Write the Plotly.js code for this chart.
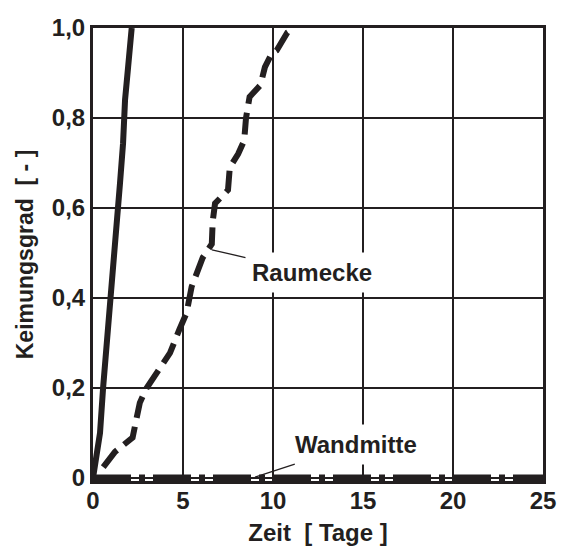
<!DOCTYPE html>
<html><head><meta charset="utf-8">
<script src="https://cdn.plot.ly/plotly-3.0.1.min.js"></script>
<style>html,body{margin:0;padding:0;background:#fff}#c{width:561px;height:546px}</style>
</head><body><div id="c"></div>
<script>
// Keimungsgrad over time (days)
const solidX = [0, 0.2, 0.39, 0.56, 0.85, 1.05, 1.1, 1.4, 1.5, 1.67, 1.78, 1.95, 2.15];
const solidY = [0, 0.062, 0.10, 0.20, 0.34, 0.43, 0.455, 0.573, 0.655, 0.744, 0.84, 0.913, 1.0];

const raumeckeX = [0.57, 1.22, 2.2, 2.33, 2.6, 2.98, 3.55, 4.28, 4.8, 5.2, 5.48, 6.1, 6.6, 6.65, 6.78, 7.5, 7.6, 8.06, 8.4, 8.5, 8.7, 9.3, 9.55, 9.94, 10.2, 10.5, 10.8, 11.2];
const raumeckeY = [0.024, 0.058, 0.09, 0.113, 0.167, 0.2, 0.233, 0.278, 0.33, 0.367, 0.425, 0.49, 0.52, 0.57, 0.61, 0.64, 0.69, 0.72, 0.75, 0.80, 0.847, 0.873, 0.913, 0.944, 0.95, 0.973, 0.99, 1.0];

const wandmitteX = [0, 25];
const wandmitteY = [0, 0];

const xTicks = [0, 5, 10, 15, 20, 25];
const xTickText = ["0", "5", "10", "15", "20", "25"];
const yTicks = [0, 0.2, 0.4, 0.6, 0.8, 1.0];
const yTickText = ["0", "0,2", "0,4", "0,6", "0,8", "1,0"];

const ink = "#231f20";
const fam = "Liberation Sans, Arial, sans-serif";
const tickFont = {family: fam, size: 24, color: ink, weight: "bold"};
const annFont = {family: fam, size: 24, color: ink, weight: "bold"};

const traces = [
  {x: solidX, y: solidY, mode: "lines", line: {color: ink, width: 6}, name: "Solid"},
  {x: raumeckeX, y: raumeckeY, mode: "lines", line: {color: ink, width: 6, dash: "22px,9px"}, name: "Raumecke"},
  {x: wandmitteX, y: wandmitteY, mode: "lines", line: {color: ink, width: 7, dash: "38px,8px,6px,8px"}, name: "Wandmitte"}
];

const layout = {
  width: 561, height: 546,
  margin: {l: 93, r: 18, t: 28, b: 65},
  paper_bgcolor: "#fff", plot_bgcolor: "#fff",
  showlegend: false,
  font: tickFont,
  xaxis: {
    range: [0, 25], tickvals: xTicks, ticktext: xTickText,
    showgrid: true, gridcolor: ink, gridwidth: 1.3, zeroline: false,
    showline: true, mirror: true, linecolor: ink, linewidth: 3,
    ticks: "", tickfont: tickFont, ticklabelstandoff: -4,
    title: {text: "Zeit\u00a0\u00a0[ Tage ]", font: {family: fam, size: 24, color: ink, weight: "bold"}, standoff: 12}
  },
  yaxis: {
    range: [-0.0067, 1], tickvals: yTicks, ticktext: yTickText,
    showgrid: true, gridcolor: ink, gridwidth: 1.3, zeroline: false,
    showline: true, mirror: true, linecolor: ink, linewidth: 3,
    ticks: "", tickfont: tickFont,
    title: {text: "Keimungsgrad\u00a0\u00a0[ - ]", font: {family: "Liberation Sans Narrow, " + fam, size: 23, color: ink, weight: "bold"}, standoff: 12}
  },
  annotations: [
    {x: 6.61, y: 0.507, xref: "x", yref: "y", text: "Raumecke", showarrow: true, arrowhead: 0, arrowwidth: 1.3, arrowcolor: ink,
     ax: 100, ay: 23, font: annFont, bgcolor: "#fff", borderpad: 6},
    {x: 9.0, y: 0.002, xref: "x", yref: "y", text: "Wandmitte", showarrow: true, arrowhead: 0, arrowwidth: 1.3, arrowcolor: ink,
     ax: 101, ay: -33, font: annFont, bgcolor: "#fff", borderpad: 6}
  ]
};

Plotly.newPlot("c", traces, layout, {displayModeBar: false, staticPlot: true});
</script>
</body></html>
